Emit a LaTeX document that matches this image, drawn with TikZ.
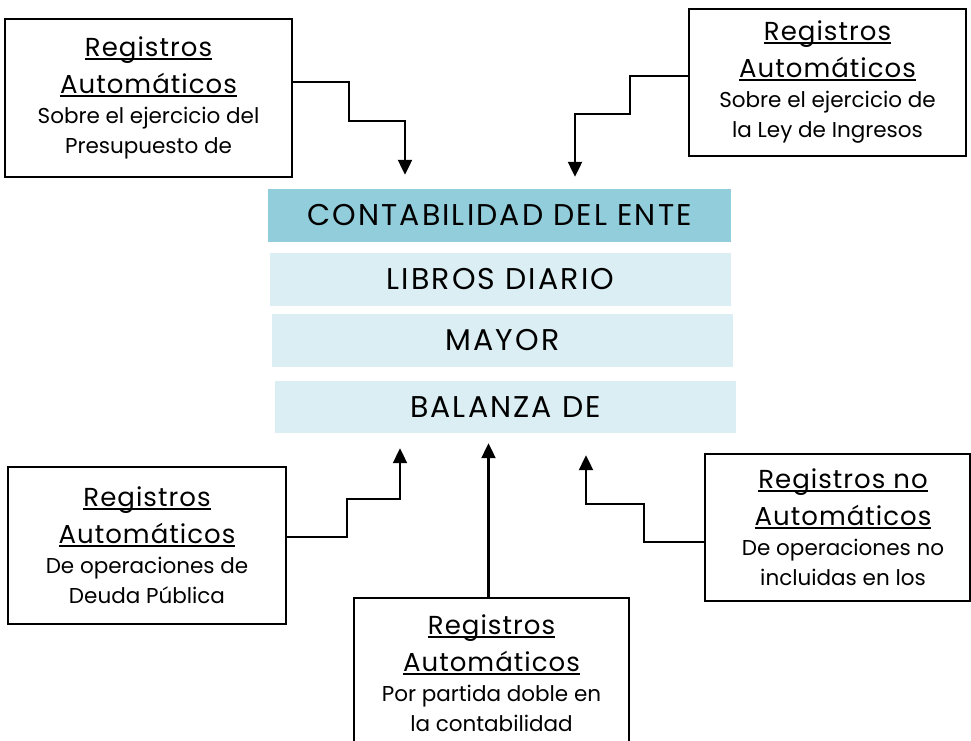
\documentclass[tikz,border=0pt]{standalone}
\usepackage{fontspec}
\setmainfont{Poppins}
\newfontfamily\barfont[LetterSpace=7]{Poppins}
\newfontfamily\headfont[LetterSpace=4]{Poppins}
\usetikzlibrary{arrows.meta}
\definecolor{tealdark}{HTML}{92CDDC}
\definecolor{teallight}{HTML}{DAEEF3}
\newcommand{\ulin}[1]{\leavevmode\setbox0\hbox{#1}\rlap{\raisebox{-3.2pt}{\rule{\wd0}{1.7pt}}}\box0}
\newcommand{\regtext}[3]{\parbox{240pt}{\centering\headfont\fontsize{26}{37}\selectfont\ulin{#1}\par\ulin{Automáticos}\par\rmfamily\fontsize{21.5}{30}\selectfont #2\par #3\par}}
\tikzset{
  regbox/.style={draw=black, line width=2pt, fill=white, inner sep=0pt},
  bar/.style={inner sep=0pt, font=\barfont\fontsize{30}{32}\selectfont},
  conn/.style={draw=black, line width=2.2pt, -{Triangle[width=14pt,length=15pt]}},
}
\begin{document}
\begin{tikzpicture}[x=1pt,y=-1pt]
\useasboundingbox (0,0) rectangle (971,740);
% central bars
\node[bar, fill=tealdark, minimum width=463pt, minimum height=53pt] (ct) at (499.5,215.5) {CONTABILIDAD DEL ENTE};
\node[bar, fill=teallight, minimum width=461pt, minimum height=53pt] (lb) at (500.5,279.5) {LIBROS DIARIO};
\node[bar, fill=teallight, minimum width=461pt, minimum height=53pt] (my) at (502.5,340.5) {MAYOR};
\node[bar, fill=teallight, minimum width=461pt, minimum height=52pt] (bz) at (505.5,407) {BALANZA DE};
% boxes
\node[regbox, minimum width=287pt, minimum height=158pt] (tl) at (148.5,98) {\regtext{Registros}{Sobre el ejercicio del}{Presupuesto de}};
\node[regbox, minimum width=277pt, minimum height=147pt] (tr) at (827.5,82.5) {\regtext{Registros}{Sobre el ejercicio de}{la Ley de Ingresos}};
\node[regbox, minimum width=278pt, minimum height=157pt] (bl) at (147,545.5) {\regtext{Registros}{De operaciones de}{Deuda Pública}};
\node[regbox, minimum width=275pt, minimum height=150pt] (bc) at (491.5,673) {\regtext{Registros}{Por partida doble en}{la contabilidad}};
\node[regbox, minimum width=265pt, minimum height=147pt] (br) at (837.5,527.5) {\hbox{\kern11pt\regtext{Registros no}{De operaciones no}{incluidas en los}}};
% arrow tips
\coordinate (tipA) at ([xshift=-94.5pt,yshift=14pt]ct.north);
\coordinate (tipB) at ([xshift=75.5pt,yshift=12pt]ct.north);
\coordinate (tipC) at ([xshift=-105.5pt,yshift=-15pt]bz.south);
\coordinate (tipD) at ([xshift=-17pt,yshift=-10pt]bz.south);
\coordinate (tipE) at ([xshift=80.5pt,yshift=-22pt]bz.south);
% connectors
\draw[conn] ([yshift=16pt]tl.east) -| ([xshift=-56pt,yshift=54pt]tipA) -| (tipA);
\draw[conn] ([yshift=6.5pt]tr.west) -| ([xshift=55pt,yshift=63pt]tipB) -| (tipB);
\draw[conn] ([yshift=8.5pt]bl.east) -| ([xshift=-53pt,yshift=-51pt]tipC) -| (tipC);
\draw[conn] (bc.north -| tipD) -- (tipD);
\draw[conn] ([yshift=-14.5pt]br.west) -| ([xshift=58pt,yshift=-49pt]tipE) -| (tipE);
\end{tikzpicture}
\end{document}
